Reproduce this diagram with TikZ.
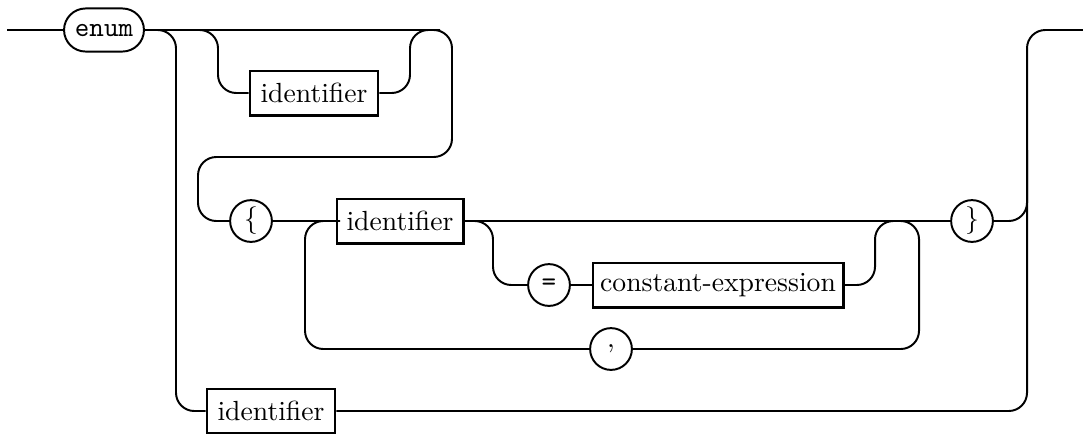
\documentclass[tikz,border=0pt]{standalone}
\usetikzlibrary{shapes.misc}
\begin{document}
\begin{tikzpicture}[x=0.383pt,y=-0.383pt,
  font=\fontsize{10.6}{12.5}\selectfont,
  conn/.style={line width=0.75pt,rounded corners=7pt},
  nonterm/.style={draw,line width=1.1pt,rectangle,inner sep=0pt,minimum height=16.9pt},
  termcirc/.style={draw,line width=0.75pt,circle,inner sep=0pt,minimum size=16pt},
  termpill/.style={draw,line width=0.75pt,rounded rectangle,inner sep=0pt,minimum width=30.6pt,minimum height=16.5pt}]
\useasboundingbox (0,0) rectangle (1083,433);

% nodes
\coordinate (start) at (7,30);
\coordinate (finish) at (1083,30);
\node[termpill] (enum) at (104,30) {\ttfamily enum};
\node[nonterm,minimum width=49pt] (idtag) at (314,93) {identifier};
\node[termcirc] (lbrace) at (251,221) {\{};
\node[nonterm,minimum width=48.3pt] (idenum) at (400,221) {identifier};
\node[termcirc] (eq) at (549,285) {\ttfamily =};
\node[nonterm,minimum width=95.8pt] (cexpr) at (718,285) {constant-expression};
\node[termcirc] (comma) at (611,349) {,};
\node[termcirc] (rbrace) at (972,221) {\}};
\node[nonterm,minimum width=49pt] (idref) at (271,411) {identifier};

% entry and the path through the enumerator list
\draw[conn] (start) -- (enum.west);
\draw[conn] (enum.east) -- (452,30) -- (452,157) -- (198,157) -- (198,221) -- (lbrace.west);

% optional tag
\draw[conn] (185,30) -- (218,30) -- (218,93) -- (idtag.west);
\draw[conn] (idtag.east) -- (410,93) -- (410,30) -- (440,30);

% enum identifier without a list
\draw[conn] (150,30) -- (176,30) -- (176,411) -- (idref.west);
\draw[conn] (idref.east) -- (1027,411) -- (1027,30) -- (finish);

% enumerator list
\draw[conn] (lbrace.east) -- (idenum.west);
\draw[conn] (idenum.east) -- (rbrace.west);
\draw[conn] (rbrace.east) -- (1027,221) -- (1027,150);

% optional initializer
\draw[conn] (463,221) -- (493,221) -- (493,285) -- (eq.west);
\draw[conn] (eq.east) -- (cexpr.west);
\draw[conn] (cexpr.east) -- (875,285) -- (875,221) -- (898,221);

% comma loop
\draw[conn] (880,221) -- (919,221) -- (919,349) -- (comma.east);
\draw[conn] (comma.west) -- (305,349) -- (305,221) -- (340,221);
\end{tikzpicture}
\end{document}
